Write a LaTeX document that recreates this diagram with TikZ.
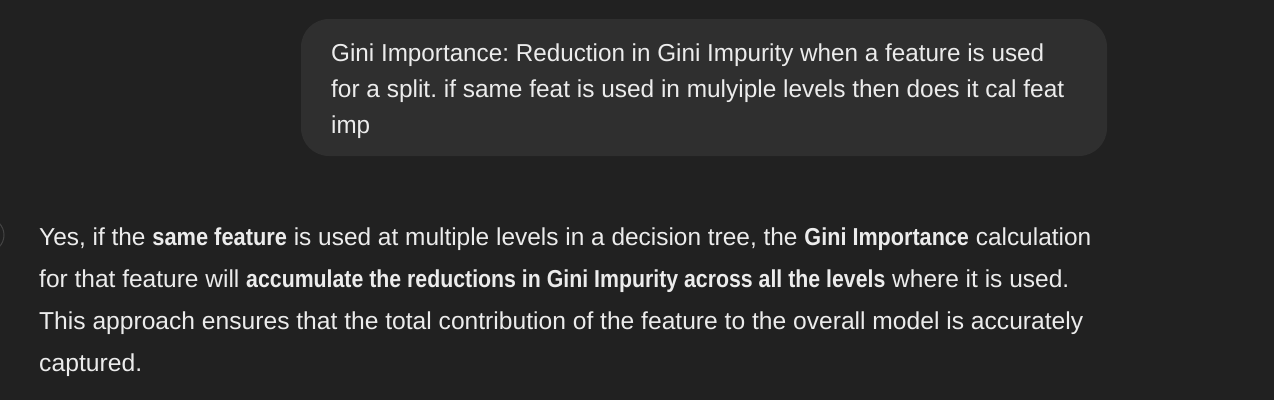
\documentclass[tikz,border=0pt]{standalone}
\usepackage{fontspec}
\setmainfont{Liberation Sans}
\frenchspacing
\definecolor{bgc}{HTML}{212121}
\definecolor{bubc}{HTML}{2F2F2F}
\definecolor{txtc}{HTML}{ECECEC}
\definecolor{avc}{HTML}{444444}
\newcommand{\fitline}[2]{\resizebox{#1pt}{\height}{#2}}
\newcommand{\bseg}[2]{\resizebox{#1pt}{\height}{\textbf{#2}}}
\begin{document}
\begin{tikzpicture}[x=1pt,y=1pt,
  line/.style={anchor=base west,inner sep=0pt,text=txtc,font=\fontsize{24.5}{28}\selectfont}]
\useasboundingbox (0,0) rectangle (1274,-400);
\fill[bgc] (0,0) rectangle (1274,-400);
\fill[bubc,rounded corners=28pt] (301,-19) rectangle (1107,-156);
\draw[avc,line width=1pt] (-13,-235) circle[radius=17];
\node[line] (q1) at (331,-61) {\fitline{713}{Gini Importance: Reduction in Gini Impurity when a feature is used}};
\node[line] (q2) at (331,-97) {\fitline{733}{for a split. if same feat is used in mulyiple levels then does it cal feat}};
\node[line] (q3) at (331,-133) {\fitline{39}{imp}};
\node[line] (a1) at (39,-245) {\fitline{1052}{Yes, if the \bseg{135}{same feature} is used at multiple levels in a decision tree, the \bseg{165}{Gini Importance} calculation}};
\node[line] (a2) at (39,-287) {\fitline{1030}{for that feature will \bseg{639}{accumulate the reductions in Gini Impurity across all the levels} where it is used.}};
\node[line] (a3) at (39,-329) {\fitline{1044}{This approach ensures that the total contribution of the feature to the overall model is accurately}};
\node[line] (a4) at (39,-371) {\fitline{103}{captured.}};
\end{tikzpicture}
\end{document}
